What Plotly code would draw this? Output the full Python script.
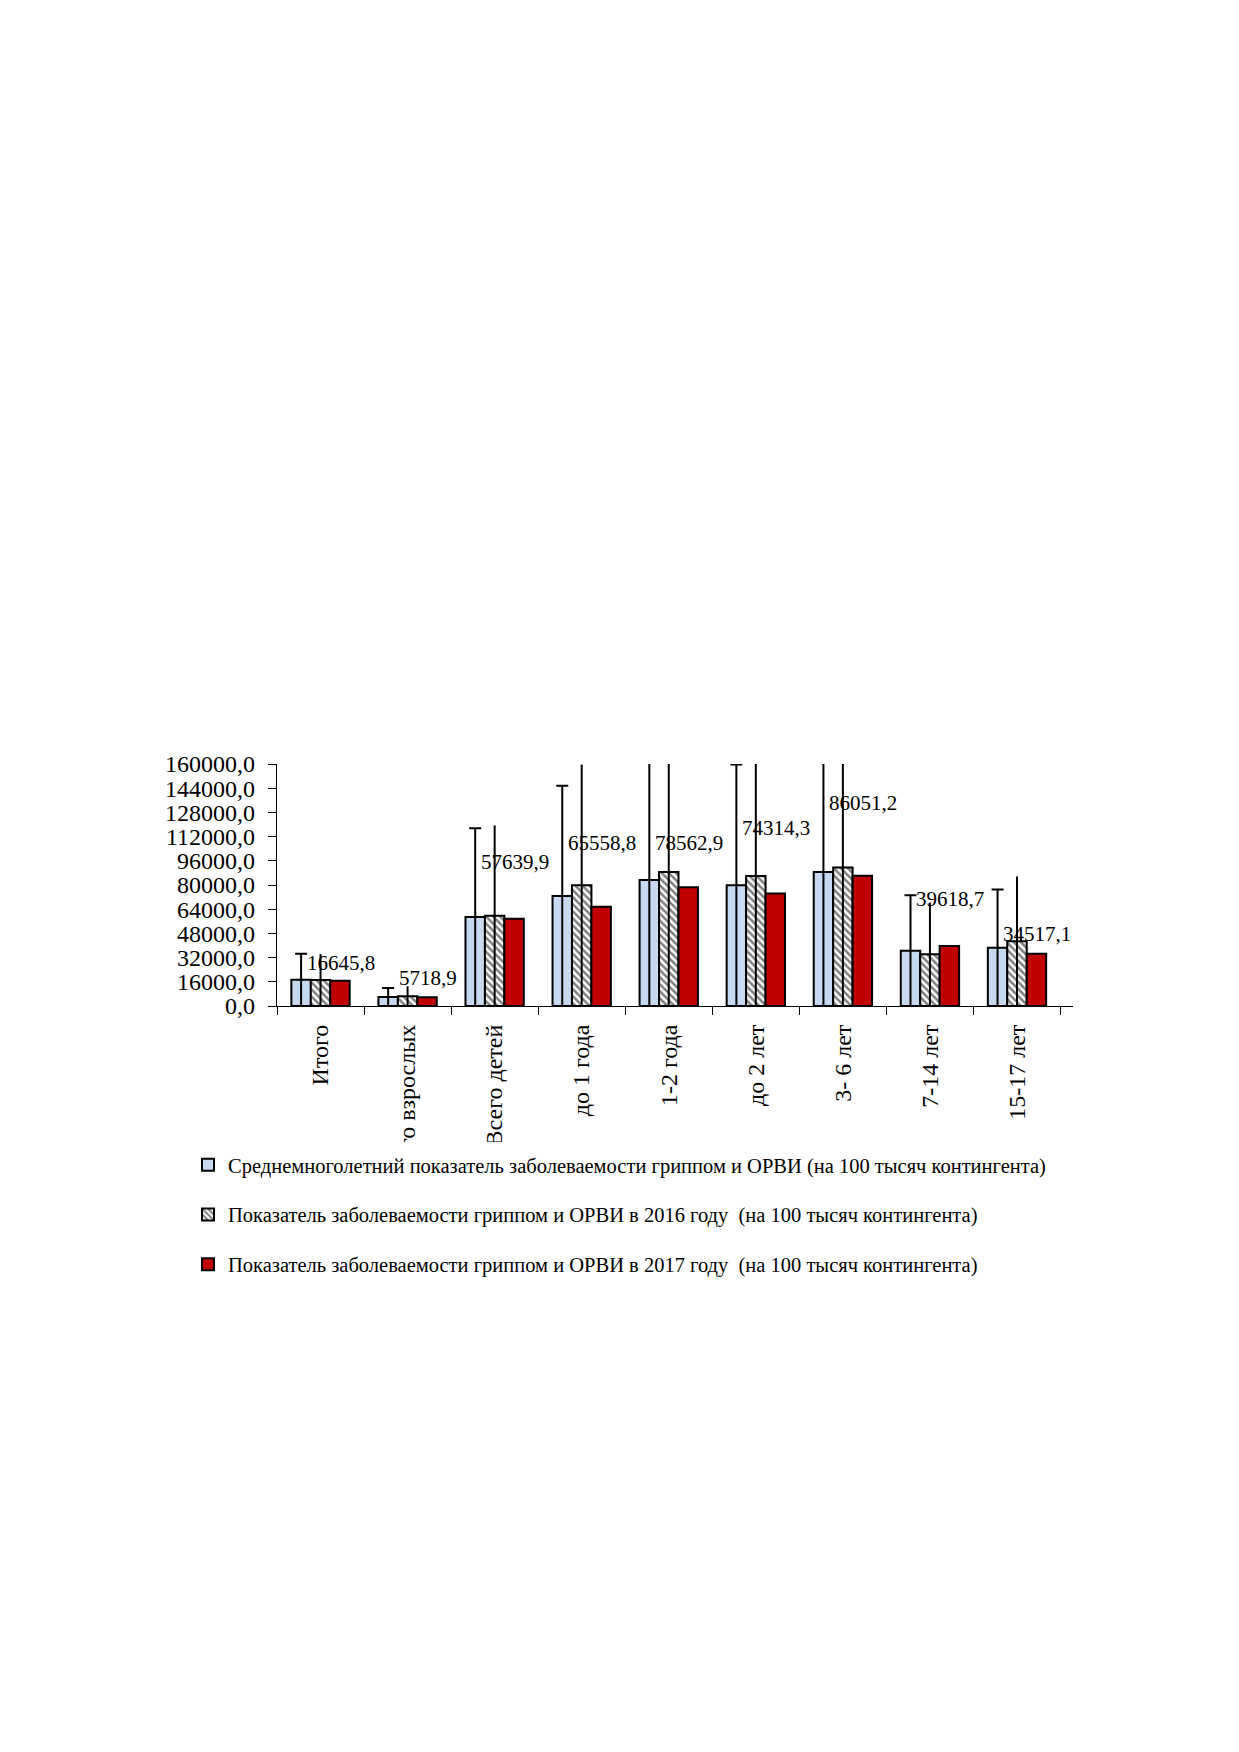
import plotly.graph_objects as go

# Age groups (x axis)
categories = ['Итого', 'Всего взрослых', 'Всего детей', 'до 1 года', '1-2 года',
              'до 2 лет', '3- 6 лет', '7-14 лет', '15-17 лет']

# Incidence per 100 thousand
avg_years = [17300, 5950, 58800, 72800, 83300, 79800, 88600, 36600, 38500]
year_2016 = [17200, 6500, 59700, 79800, 88600, 86000, 91500, 34200, 42800]
year_2017 = [16645.8, 5718.9, 57639.9, 65558.8, 78562.9, 74314.3, 86051.2, 39618.7, 34517.1]

names = [
    'Среднемноголетний показатель заболеваемости гриппом и ОРВИ (на 100 тысяч контингента)',
    'Показатель заболеваемости гриппом и ОРВИ в 2016 году  (на 100 тысяч контингента)',
    'Показатель заболеваемости гриппом и ОРВИ в 2017 году  (на 100 тысяч контингента)',
]

# pixel lift of the 2017 value labels above the bars (as placed in the original)
label_lift = [18, 19, 57, 64, 44, 66, 73, 47, 20]

font_family = 'Liberation Serif, Times New Roman, serif'

# page body has an 8px margin, so the figure is a bit smaller than the window
W, H = 1223, 1736

fig = go.Figure()
fig.add_trace(go.Bar(
    x=categories, y=avg_years, name=names[0],
    marker=dict(color='#C6D9F1', line=dict(color='black', width=2)),
    error_y=dict(type='percent', value=100, color='black', thickness=2, width=6),
    legendgroup='a',
))
fig.add_trace(go.Bar(
    x=categories, y=year_2016, name=names[1],
    marker=dict(color='white', line=dict(color='black', width=2),
                pattern=dict(shape='\\', fgcolor='black', bgcolor='white', size=5, solidity=0.5)),
    error_y=dict(type='percent', value=100, color='black', thickness=2, width=0),
    legendgroup='b',
))
fig.add_trace(go.Bar(
    x=categories, y=year_2017, name=names[2],
    marker=dict(color='#C00000', line=dict(color='black', width=2)),
    legendgroup='c',
))

for cat, val, lift in zip(categories, year_2017, label_lift):
    fig.add_annotation(
        x=cat, y=val, xshift=20, yshift=lift, yanchor='middle',
        text=f'{val:.1f}'.replace('.', ','), showarrow=False,
        font=dict(family=font_family, size=21, color='black'),
    )

# the long category names are cut off in the original picture
fig.add_shape(type='rect', xref='paper', yref='paper', x0=-0.05, x1=1.05,
              y0=-0.562, y1=-0.74, fillcolor='white', line=dict(width=0), layer='above')

fig.update_layout(
    width=W, height=H,
    margin=dict(l=269, r=W - 269 - 796, t=756, b=H - 756 - 242, autoexpand=False),
    paper_bgcolor='white', plot_bgcolor='white',
    barmode='group', bargap=0.33, bargroupgap=0,
    separators=', ',
    font=dict(family=font_family, color='black'),
    showlegend=True,
    legend=dict(
        xref='container', yref='container', x=180 / W, y=1 - 1137 / H,
        xanchor='left', yanchor='top',
        traceorder='grouped', tracegroupgap=20,
        font=dict(family=font_family, size=20.5, color='black'),
        bgcolor='rgba(0,0,0,0)',
    ),
)
fig.update_yaxes(
    range=[0, 160000], dtick=16000, tickformat='.1f',
    showgrid=False, zeroline=False,
    showline=True, linecolor='black', linewidth=1.2,
    ticks='outside', ticklen=8, tickcolor='black',
    ticklabelstandoff=8,
    tickfont=dict(family=font_family, size=24, color='black'),
)
fig.update_xaxes(
    tickangle=-90, showgrid=False,
    showline=True, linecolor='black', linewidth=1.2,
    ticks='outside', ticklen=8, tickcolor='black', tickson='boundaries',
    ticklabelstandoff=8,
    tickfont=dict(family=font_family, size=24, color='black'),
)

fig.write_html('out.html')
